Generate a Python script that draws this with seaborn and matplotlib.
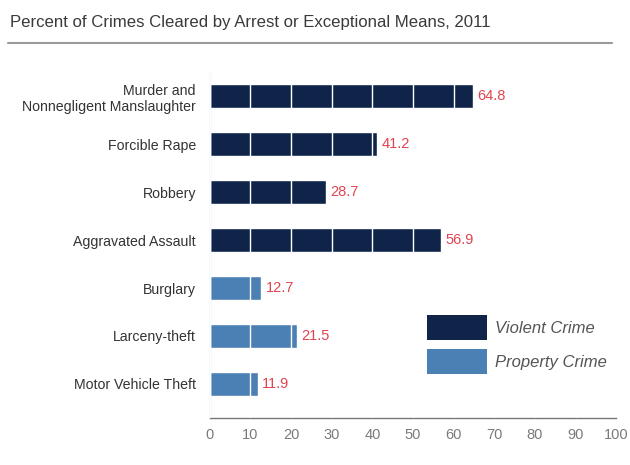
import matplotlib
matplotlib.use("Agg")
import matplotlib.pyplot as plt
import seaborn as sns
import pandas as pd
from matplotlib.patches import Patch

categories = [
    "Murder and\nNonnegligent Manslaughter",
    "Forcible Rape",
    "Robbery",
    "Aggravated Assault",
    "Burglary",
    "Larceny-theft",
    "Motor Vehicle Theft",
]
cleared_pct = [64.8, 41.2, 28.7, 56.9, 12.7, 21.5, 11.9]
crime_type = ["Violent Crime"] * 4 + ["Property Crime"] * 3
x_ticks = [0, 10, 20, 30, 40, 50, 60, 70, 80, 90, 100]

palette = {"Violent Crime": "#10244a", "Property Crime": "#4a80b4"}

df = pd.DataFrame({"category": categories, "pct": cleared_pct, "type": crime_type})

sns.set_theme(style="white")
plt.rcParams["font.family"] = ["Liberation Sans", "DejaVu Sans"]

fig = plt.figure(figsize=(6.3, 4.65), dpi=100)
ax = fig.add_axes([0.333, 0.101, 0.645, 0.744])

sns.barplot(data=df, y="category", x="pct", hue="type", palette=palette,
            dodge=False, orient="h", width=0.5, saturation=1, legend=False, ax=ax)

ax.set_xlim(0, 100)
ax.set_ylim(6.71, -0.5)
ax.set_xticks(x_ticks)
ax.set_xticklabels([str(t) for t in x_ticks], color="#7a7a7a", fontsize=10.5)
ax.tick_params(axis="x", direction="in", length=3, color="#777777", pad=7)
ax.tick_params(axis="y", length=0, pad=10, labelsize=10.2, labelcolor="#333333")
ax.set_xlabel("")
ax.set_ylabel("")

# white gridlines drawn over the bars
ax.grid(axis="x", color="white", linewidth=1.0)
ax.set_axisbelow(False)

for side in ["top", "right"]:
    ax.spines[side].set_visible(False)
ax.spines["left"].set_color("#cfe0f0")
ax.spines["left"].set_linewidth(1.0)
ax.spines["bottom"].set_color("#777777")
ax.spines["bottom"].set_linewidth(1.0)

# value labels
for i, v in enumerate(cleared_pct):
    ax.text(v + 1.0, i, f"{v}", va="center", ha="left",
            color="#e04452", fontsize=10.5)

# legend
handles = [Patch(facecolor=palette[k], edgecolor="none") for k in palette]
leg = fig.legend(handles, list(palette.keys()), loc="upper left",
                 bbox_to_anchor=(0.66, 0.347), frameon=False,
                 handlelength=3.6, handleheight=1.9, handletextpad=0.48,
                 labelspacing=0.55, borderpad=0.2,
                 prop={"style": "italic", "size": 12})
for t in leg.get_texts():
    t.set_color("#555555")

# title with rule beneath
fig.text(0.016, 0.951, "Percent of Crimes Cleared by Arrest or Exceptional Means, 2011",
         fontsize=12.1, color="#3a3a3a", va="center", ha="left")
fig.add_artist(plt.Line2D([0.013, 0.972], [0.908, 0.908], transform=fig.transFigure,
                          color="#9a9a9a", linewidth=1.5))

fig.savefig("out.png", dpi=100)
